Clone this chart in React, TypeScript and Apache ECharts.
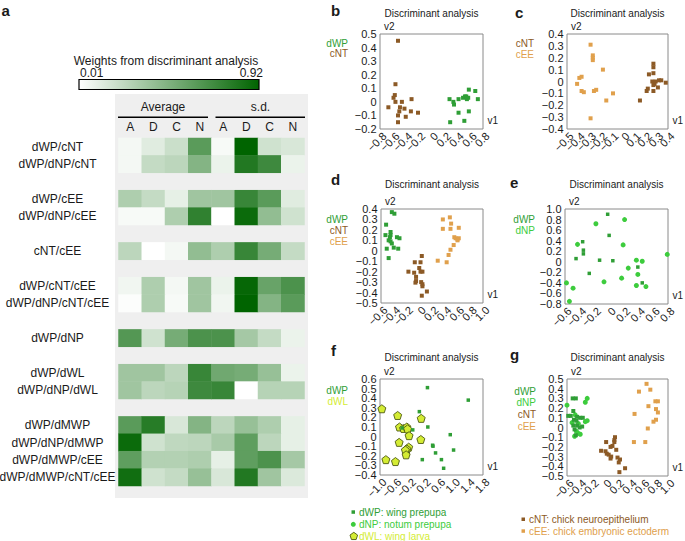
import React, { useEffect, useRef } from 'react';
import * as echarts from 'echarts';

const FONT = 'Liberation Sans, Arial, Helvetica, sans-serif';
const INK = '#1a1a1a';

const C_DWP = '#2f9e36';
const C_DNP = '#3dcc3d';
const C_CNT = '#8c5a26';
const C_CEE = '#e0a04c';
const C_DWL = '#d4ec34';
const C_DWL_EDGE = '#4d5a12';

// ---------- panel a: heatmap ----------
const heatColumns = ['A', 'D', 'C', 'N', 'A', 'D', 'C', 'N'];
const heatRowLabels = [
  'dWP/cNT', 'dWP/dNP/cNT', '_g1',
  'dWP/cEE', 'dWP/dNP/cEE', '_g2',
  'cNT/cEE', '_g3',
  'dWP/cNT/cEE', 'dWP/dNP/cNT/cEE', '_g4',
  'dWP/dNP', '_g5',
  'dWP/dWL', 'dWP/dNP/dWL', '_g6',
  'dWP/dMWP', 'dWP/dNP/dMWP', 'dWP/dMWP/cEE', 'dWP/dMWP/cNT/cEE',
];
const w_dWP_cNT = [0.05, 0.12, 0.2, 0.6, 0.04, 0.92, 0.18, 0.15];
const w_dWP_dNP_cNT = [0.05, 0.22, 0.25, 0.45, 0.08, 0.8, 0.7, 0.08];
const w_dWP_cEE = [0.3, 0.22, 0.1, 0.35, 0.35, 0.72, 0.6, 0.12];
const w_dWP_dNP_cEE = [0.04, 0.04, 0.3, 0.75, 0.01, 0.88, 0.4, 0.18];
const w_cNT_cEE = [0.25, 0.01, 0.05, 0.4, 0.3, 0.72, 0.5, 0.22];
const w_dWP_cNT_cEE = [0.06, 0.3, 0.05, 0.35, 0.08, 0.9, 0.55, 0.65];
const w_dWP_dNP_cNT_cEE = [0.02, 0.3, 0.04, 0.35, 0.06, 0.92, 0.45, 0.6];
const w_dWP_dNP = [0.62, 0.18, 0.5, 0.65, 0.65, 0.33, 0.22, 0.08];
const w_dWP_dWL = [0.35, 0.35, 0.25, 0.72, 0.52, 0.5, 0.38, 0.08];
const w_dWP_dNP_dWL = [0.35, 0.25, 0.27, 0.7, 0.72, 0.01, 0.27, 0.27];
const w_dWP_dMWP = [0.6, 0.78, 0.15, 0.45, 0.25, 0.38, 0.3, 0.1];
const w_dWP_dNP_dMWP = [0.88, 0.18, 0.24, 0.25, 0.32, 0.58, 0.25, 0.1];
const w_dWP_dMWP_cEE = [0.58, 0.28, 0.28, 0.3, 0.1, 0.58, 0.65, 0.33];
const w_dWP_dMWP_cNT_cEE = [0.86, 0.18, 0.22, 0.38, 0.15, 0.8, 0.35, 0.14];
const weightRows: (number[] | null)[] = [
  w_dWP_cNT, w_dWP_dNP_cNT, null,
  w_dWP_cEE, w_dWP_dNP_cEE, null,
  w_cNT_cEE, null,
  w_dWP_cNT_cEE, w_dWP_dNP_cNT_cEE, null,
  w_dWP_dNP, null,
  w_dWP_dWL, w_dWP_dNP_dWL, null,
  w_dWP_dMWP, w_dWP_dNP_dMWP, w_dWP_dMWP_cEE, w_dWP_dMWP_cNT_cEE,
];
const weightMin = 0.01;
const weightMax = 0.92;

// ---------- tick labels of panels b-g ----------
const bXTicks = [-0.8, -0.6, -0.4, -0.2, 0, 0.2, 0.4, 0.6, 0.8];
const bYTicks = [-0.2, -0.1, 0, 0.1, 0.2, 0.3, 0.4, 0.5];
const cXTicks = [-0.5, -0.4, -0.3, -0.2, -0.1, 0, 0.1, 0.2, 0.3, 0.4];
const cYTicks = [-0.4, -0.3, -0.2, -0.1, 0, 0.1, 0.2, 0.3, 0.4];
const dXTicks = [-0.6, -0.4, -0.2, 0, 0.2, 0.4, 0.6, 0.8, 1.0];
const dYTicks = [-0.5, -0.4, -0.3, -0.2, -0.1, 0, 0.1, 0.2, 0.3, 0.4];
const eXTicks = [-0.6, -0.4, -0.2, 0, 0.2, 0.4, 0.6, 0.8];
const eYTicks = [-0.8, -0.6, -0.4, -0.2, 0, 0.2, 0.4, 0.6, 0.8, 1.0];
const fXTicks = [-1.0, -0.6, -0.2, 0.2, 0.6, 1.0, 1.4, 1.8];
const fYTicks = [-0.4, -0.3, -0.2, -0.1, 0, 0.1, 0.2, 0.3, 0.4, 0.5, 0.6];
const gXTicks = [-0.6, -0.4, -0.2, 0, 0.2, 0.4, 0.6, 0.8, 1.0];
const gYTicks = [-0.5, -0.4, -0.3, -0.2, -0.1, 0, 0.1, 0.2, 0.3, 0.4, 0.5];

// ---------- panels b-g: discriminant analysis scatter ----------
const bCNT = [[-0.52, 0.45], [-0.56, 0.13], [-0.57, 0.05], [-0.59, 0.03], [-0.67, -0.04], [-0.56, 0.0], [-0.46, 0.0], [-0.31, 0.02], [-0.49, -0.04], [-0.42, -0.05], [-0.5, -0.07], [-0.32, -0.07], [-0.52, -0.1], [-0.4, -0.11], [-0.21, -0.08], [-0.52, -0.15]];
const bDWP = [[0.28, 0.02], [0.34, 0.0], [0.35, -0.02], [0.42, 0.02], [0.49, 0.03], [0.52, 0.04], [0.54, 0.04], [0.57, 0.03], [0.55, 0.02], [0.58, 0.09], [0.68, 0.08], [0.72, 0.02], [0.42, -0.08], [0.58, -0.07], [0.51, -0.14], [0.29, -0.15]];

const cCEE = [[-0.29, 0.31], [-0.27, 0.22], [-0.27, 0.2], [-0.27, 0.18], [-0.18, 0.1], [-0.41, -0.02], [-0.39, 0.03], [-0.37, 0.04], [-0.37, -0.08], [-0.35, -0.09], [-0.26, -0.08], [-0.24, -0.07], [-0.09, -0.1], [-0.15, -0.16], [-0.29, -0.31]];
const cCNT = [[0.15, -0.16], [0.21, -0.08], [0.22, -0.06], [0.23, 0.06], [0.27, 0.15], [0.27, 0.12], [0.27, 0.07], [0.26, 0.0], [0.28, -0.02], [0.29, 0.0], [0.27, -0.03], [0.27, -0.08], [0.32, 0.01], [0.34, 0.01], [0.31, -0.05], [0.38, -0.01]];

const dDWP = [[-0.43, 0.37], [-0.39, 0.355], [-0.52, 0.25], [-0.45, 0.18], [-0.45, 0.15], [-0.53, 0.15], [-0.46, 0.13], [-0.35, 0.13], [-0.31, 0.12], [-0.48, 0.1], [-0.43, 0.07], [-0.51, 0.02], [-0.4, 0.03], [-0.33, 0.02], [-0.48, -0.07], [-0.45, 0.09]];
const dCNT = [[0.04, -0.05], [-0.07, -0.11], [0.02, -0.11], [0.0, -0.165], [-0.17, -0.2], [-0.08, -0.21], [0.02, -0.2], [0.05, -0.2], [-0.05, -0.25], [-0.05, -0.29], [-0.06, -0.305], [0.03, -0.3], [0.05, -0.32], [0.05, -0.34], [0.12, -0.39], [0.04, -0.43]];
const dCEE = [[0.48, 0.32], [0.37, 0.3], [0.5, 0.26], [0.37, 0.21], [0.49, 0.21], [0.62, 0.22], [0.55, 0.13], [0.57, 0.12], [0.6, 0.11], [0.6, 0.1], [0.62, 0.12], [0.54, 0.055], [0.49, 0.01], [0.46, -0.04], [0.29, -0.095], [0.43, -0.11]];

const eDWP = [[-0.02, 0.9], [0.0, 0.5], [-0.36, 0.38], [-0.35, 0.22], [-0.35, 0.15], [-0.45, 0.06], [-0.13, 0.03], [0.05, 0.02], [0.39, -0.1], [-0.27, -0.22], [0.45, -0.4]];
const eDNP = [[-0.18, 0.72], [0.21, 0.8], [-0.43, 0.33], [0.19, 0.32], [0.79, 0.14], [0.37, 0.03], [0.45, 0.01], [0.26, -0.12], [0.17, -0.31], [-0.07, -0.38], [0.39, -0.24], [0.37, -0.45], [0.5, -0.47], [-0.58, -0.4], [-0.49, -0.5], [-0.54, -0.75]];

const fDWL = [[-0.95, 0.29], [-0.52, 0.22], [-0.47, 0.1], [-0.36, 0.085], [-0.27, 0.1], [-0.25, 0.08], [-0.21, 0.01], [0.12, 0.19], [0.11, -0.03], [-0.48, -0.06], [-0.22, -0.11], [-0.27, -0.13], [-0.31, -0.14], [-0.29, -0.19], [-0.84, -0.24], [-0.58, -0.26]];
const fDWP = [[0.29, 0.51], [1.4, 0.38], [0.07, 0.26], [0.3, 0.1], [-0.11, 0.07], [0.91, 0.02], [0.43, -0.09], [0.44, -0.1], [0.51, -0.17], [1.0, -0.14], [0.15, -0.24], [0.67, -0.24], [0.73, -0.33], [-0.4, 0.09]];

const gDWP = [[-0.51, 0.3], [-0.46, 0.3], [-0.5, 0.17], [-0.58, 0.12], [-0.54, 0.12], [-0.44, 0.11], [-0.39, 0.1], [-0.35, 0.1], [-0.49, 0.08], [-0.45, 0.07], [-0.5, 0.02], [-0.44, 0.02], [-0.4, 0.0], [-0.36, 0.01], [-0.48, -0.02], [-0.46, -0.08]];
const gDNP = [[-0.28, 0.3], [-0.31, 0.26], [-0.6, 0.23], [-0.47, 0.13], [-0.31, 0.06], [-0.28, 0.07], [-0.45, -0.04], [-0.42, -0.06], [-0.39, -0.07], [-0.48, -0.09], [-0.52, 0.05], [-0.42, 0.04]];
const gCNT = [[0.02, -0.15], [0.16, -0.1], [0.15, -0.13], [0.15, -0.15], [0.12, -0.19], [0.09, -0.2], [0.18, -0.23], [-0.06, -0.24], [0.01, -0.245], [0.03, -0.27], [0.06, -0.28], [0.1, -0.3], [0.09, -0.32], [0.2, -0.31], [0.24, -0.33], [0.22, -0.36], [0.32, -0.42], [0.23, -0.46]];
const gCEE = [[0.66, 0.45], [0.72, 0.39], [0.54, 0.37], [0.8, 0.27], [0.84, 0.27], [0.69, 0.22], [0.81, 0.19], [0.84, 0.155], [0.47, 0.14], [0.81, 0.08], [0.77, 0.06], [0.68, -0.01], [0.46, -0.15], [0.64, -0.15]];

const PENTAGON = 'path://M0,-1 L0.951,-0.309 L0.588,0.809 L-0.588,0.809 L-0.951,-0.309 Z';

type Ser = { data: number[][]; color: string; symbol: string; size: number; border?: string };
type Panel = {
  letter: string; lx: number; ly: number;
  left: number; top: number; w: number; h: number;
  xTicks: number[]; yTicks: number[];
  titleY: number; legend: [string, string][]; legRight: number; legY: number; legStep: number;
  series: Ser[];
};

const panels: Panel[] = [
  {
    letter: 'b', lx: 331, ly: 10, left: 380, top: 34, w: 103, h: 95,
    xTicks: bXTicks, yTicks: bYTicks, titleY: 13,
    legend: [['dWP', C_DWP], ['cNT', C_CNT]], legRight: 348, legY: 43, legStep: 10.7,
    series: [
      { data: bCNT, color: C_CNT, symbol: 'rect', size: 4 },
      { data: bDWP, color: C_DWP, symbol: 'rect', size: 4 },
    ],
  },
  {
    letter: 'c', lx: 515, ly: 12, left: 567, top: 34, w: 101, h: 95,
    xTicks: cXTicks, yTicks: cYTicks, titleY: 13,
    legend: [['cNT', C_CNT], ['cEE', C_CEE]], legRight: 534, legY: 43, legStep: 11,
    series: [
      { data: cCEE, color: C_CEE, symbol: 'rect', size: 4 },
      { data: cCNT, color: C_CNT, symbol: 'rect', size: 4 },
    ],
  },
  {
    letter: 'd', lx: 331, ly: 179, left: 381, top: 209, w: 102, h: 94,
    xTicks: dXTicks, yTicks: dYTicks, titleY: 184,
    legend: [['dWP', C_DWP], ['cNT', C_CNT], ['cEE', C_CEE]], legRight: 348, legY: 219.5, legStep: 10.8,
    series: [
      { data: dDWP, color: C_DWP, symbol: 'rect', size: 4 },
      { data: dCNT, color: C_CNT, symbol: 'rect', size: 4 },
      { data: dCEE, color: C_CEE, symbol: 'rect', size: 4 },
    ],
  },
  {
    letter: 'e', lx: 510, ly: 182, left: 565, top: 209, w: 103, h: 95,
    xTicks: eXTicks, yTicks: eYTicks, titleY: 184,
    legend: [['dWP', C_DWP], ['dNP', C_DNP]], legRight: 535, legY: 219.5, legStep: 11,
    series: [
      { data: eDNP, color: C_DNP, symbol: 'circle', size: 5 },
      { data: eDWP, color: C_DWP, symbol: 'rect', size: 3.5 },
    ],
  },
  {
    letter: 'f', lx: 331, ly: 350, left: 380, top: 379, w: 103, h: 96,
    xTicks: fXTicks, yTicks: fYTicks, titleY: 357.5,
    legend: [['dWP', C_DWP], ['dWL', C_DWL]], legRight: 348, legY: 390, legStep: 11,
    series: [
      { data: fDWL, color: C_DWL, symbol: PENTAGON, size: 8, border: C_DWL_EDGE },
      { data: fDWP, color: C_DWP, symbol: 'rect', size: 3.5 },
    ],
  },
  {
    letter: 'g', lx: 510, ly: 354, left: 567, top: 379, w: 101, h: 97,
    xTicks: gXTicks, yTicks: gYTicks, titleY: 357.5,
    legend: [['dWP', C_DWP], ['dNP', C_DNP], ['cNT', C_CNT], ['cEE', C_CEE]], legRight: 536, legY: 391, legStep: 11.7,
    series: [
      { data: gCNT, color: C_CNT, symbol: 'rect', size: 4 },
      { data: gCEE, color: C_CEE, symbol: 'rect', size: 4 },
      { data: gDNP, color: C_DNP, symbol: 'circle', size: 5 },
      { data: gDWP, color: C_DWP, symbol: 'rect', size: 4 },
    ],
  },
];

const fmtTick = (v: number) => {
  const r = Math.round(v * 10) / 10;
  if (Math.abs(r) < 1e-9) return '0';
  return (r < 0 ? '\u2212' : '') + Math.abs(r).toFixed(1);
};

const txt = (
  x: number, y: number, text: string,
  o: { color?: string; size?: number; weight?: string; align?: string; rotation?: number } = {}
) => ({
  type: 'text', x, y, rotation: o.rotation || 0, silent: true, z: 10,
  style: {
    text, fill: o.color || INK, fontSize: o.size || 10, fontFamily: FONT,
    fontWeight: o.weight || 'normal', align: o.align || 'left', verticalAlign: 'middle',
    textAlign: o.align || 'left', textVerticalAlign: 'middle',
  },
});

export default function App() {
  const ref = useRef<HTMLDivElement>(null);
  useEffect(() => {
    document.body.style.margin = '0';
    const chart = echarts.init(ref.current!, null, { renderer: 'svg' });

    const heatData: number[][] = [];
    weightRows.forEach((row, r) => {
      if (!row) return;
      row.forEach((v, c) => heatData.push([c, r, v]));
    });

    const grids: any[] = [
      { left: 118.5, top: 138, width: 186, height: 348, containLabel: false, outerBoundsMode: 'none' },
      ...panels.map((p) => ({
        left: p.left, top: p.top, width: p.w, height: p.h, show: true,
        borderColor: '#8a8a8a', borderWidth: 1, backgroundColor: 'transparent',
        containLabel: false, outerBoundsMode: 'none',
      })),
    ];

    const xAxes: any[] = [
      {
        type: 'category', gridIndex: 0, position: 'top', data: heatColumns,
        axisLine: { show: false }, axisTick: { show: false }, splitLine: { show: false },
        axisLabel: { fontSize: 12, color: INK, fontFamily: FONT, margin: 5, interval: 0 },
      },
      ...panels.map((p, i) => ({
        type: 'value', gridIndex: i + 1,
        min: p.xTicks[0], max: p.xTicks[p.xTicks.length - 1],
        axisLine: { show: false }, axisTick: { show: false }, splitLine: { show: false },
        axisLabel: { show: false },
      })),
    ];
    const yAxes: any[] = [
      {
        type: 'category', gridIndex: 0, inverse: true, data: heatRowLabels,
        axisLine: { show: false }, axisTick: { show: false }, splitLine: { show: false },
        axisLabel: {
          fontSize: 12, color: INK, fontFamily: FONT, margin: 61, align: 'center', interval: 0,
          formatter: (v: string) => (v.startsWith('_') ? '' : v),
        },
      },
      ...panels.map((p, i) => ({
        type: 'value', gridIndex: i + 1,
        min: p.yTicks[0], max: p.yTicks[p.yTicks.length - 1],
        axisLine: { show: false }, axisTick: { show: false }, splitLine: { show: false },
        axisLabel: { show: false },
      })),
    ];

    const series: any[] = [
      {
        type: 'heatmap', xAxisIndex: 0, yAxisIndex: 0, data: heatData,
        itemStyle: { borderWidth: 0 }, emphasis: { disabled: true }, silent: true,
      },
    ];
    panels.forEach((p, i) => {
      p.series.forEach((s) => {
        series.push({
          type: 'scatter', xAxisIndex: i + 1, yAxisIndex: i + 1, data: s.data,
          symbol: s.symbol, symbolSize: s.size, silent: true,
          itemStyle: s.border
            ? { color: s.color, borderColor: s.border, borderWidth: 0.9, opacity: 1 }
            : { color: s.color, opacity: 1 },
        });
      });
    });

    const gfx: any[] = [];
    gfx.push({ type: 'rect', z: -10, silent: true, shape: { x: 115, y: 94, width: 193, height: 404 }, style: { fill: '#efefef' } });
    gfx.push(txt(166, 61, 'Weights from discriminant analysis', { size: 12, align: 'center' }));
    gfx.push(txt(80, 72.5, '0.01', { size: 12 }));
    gfx.push(txt(263, 72.5, '0.92', { size: 12, align: 'right' }));
    gfx.push({
      type: 'rect', silent: true, shape: { x: 79, y: 79.5, width: 180, height: 10 },
      style: {
        fill: new echarts.graphic.LinearGradient(0, 0, 1, 0, [
          { offset: 0, color: '#ffffff' }, { offset: 1, color: '#006400' },
        ]),
        stroke: '#000', lineWidth: 1.2,
      },
    });
    gfx.push(txt(163, 107, 'Average', { size: 12, align: 'center' }));
    gfx.push(txt(260.5, 107, 's.d.', { size: 12, align: 'center' }));
    gfx.push({ type: 'line', silent: true, shape: { x1: 118, y1: 117.3, x2: 208, y2: 117.3 }, style: { stroke: '#000', lineWidth: 1.6 } });
    gfx.push({ type: 'line', silent: true, shape: { x1: 215.5, y1: 117.3, x2: 305, y2: 117.3 }, style: { stroke: '#000', lineWidth: 1.6 } });
    gfx.push(txt(1.5, 10, 'a', { size: 15, weight: 'bold' }));

    panels.forEach((p) => {
      gfx.push(txt(p.lx, p.ly, p.letter, { size: 15, weight: 'bold' }));
      gfx.push(txt(p.left + p.w / 2, p.titleY, 'Discriminant analysis', { size: 10, align: 'center' }));
      gfx.push(txt(p.left + 4, p.top - 8, 'v2', { size: 10 }));
      gfx.push(txt(p.left + p.w + 4.5, p.top + p.h - 8.5, 'v1', { size: 10 }));
      p.legend.forEach(([name, color], k) => {
        gfx.push(txt(p.legRight, p.legY + k * p.legStep, name, { size: 10, color, align: 'right' }));
      });
    });

    gfx.push({ type: 'rect', silent: true, shape: { x: 351.5, y: 510.3, width: 3.5, height: 3.5 }, style: { fill: C_DWP } });
    gfx.push(txt(359, 512, 'dWP: wing prepupa', { size: 10, color: C_DWP }));
    gfx.push({ type: 'circle', silent: true, shape: { cx: 353.3, cy: 524.3, r: 2.5 }, style: { fill: C_DNP } });
    gfx.push(txt(359, 524.3, 'dNP: notum prepupa', { size: 10, color: C_DNP }));
    const pent: number[][] = [];
    for (let k = 0; k < 5; k++) {
      const a = -Math.PI / 2 + (k * 2 * Math.PI) / 5;
      pent.push([353.8 + 4 * Math.cos(a), 536.3 + 4 * Math.sin(a)]);
    }
    gfx.push({ type: 'polygon', silent: true, shape: { points: pent }, style: { fill: C_DWL, stroke: C_DWL_EDGE, lineWidth: 0.9 } });
    gfx.push(txt(359, 536, 'dWL: wing larva', { size: 10, color: C_DWL }));
    gfx.push({ type: 'rect', silent: true, shape: { x: 521.5, y: 517.5, width: 3.5, height: 3.5 }, style: { fill: C_CNT } });
    gfx.push(txt(529, 519.3, 'cNT: chick neuroepithelium', { size: 10, color: C_CNT }));
    gfx.push({ type: 'rect', silent: true, shape: { x: 521.5, y: 529.3, width: 3.5, height: 3.5 }, style: { fill: C_CEE } });
    gfx.push(txt(529, 531, 'cEE: chick embryonic ectoderm', { size: 10, color: C_CEE }));

    chart.setOption({
      animation: false,
      backgroundColor: '#ffffff',
      textStyle: { fontFamily: FONT },
      grid: grids,
      xAxis: xAxes,
      yAxis: yAxes,
      visualMap: [{
        type: 'continuous', show: false, seriesIndex: 0, min: weightMin, max: weightMax,
        inRange: { color: ['#ffffff', '#006400'] },
      }],
      series,
    });

    // tick labels placed through each grid's own scales
    panels.forEach((p, i) => {
      const gi = i + 1;
      const yMin = p.yTicks[0];
      const xMin = p.xTicks[0];
      p.xTicks.forEach((t) => {
        const pt = chart.convertToPixel({ gridIndex: gi } as any, [t, yMin]) as number[];
        if (!pt) return;
        gfx.push(txt(pt[0] + 4.5, pt[1] + 5, fmtTick(t), { size: 11, align: 'right', rotation: Math.PI / 4 }));
      });
      p.yTicks.forEach((t) => {
        const pt = chart.convertToPixel({ gridIndex: gi } as any, [xMin, t]) as number[];
        if (!pt) return;
        gfx.push(txt(pt[0] - 3.5, pt[1], fmtTick(t), { size: 11, align: 'right' }));
      });
    });

    chart.setOption({ graphic: { elements: gfx } });
    return () => chart.dispose();
  }, []);
  return <div ref={ref} style={{ position: 'absolute', left: 0, top: 0, width: 685, height: 541, background: '#fff' }} />;
}
